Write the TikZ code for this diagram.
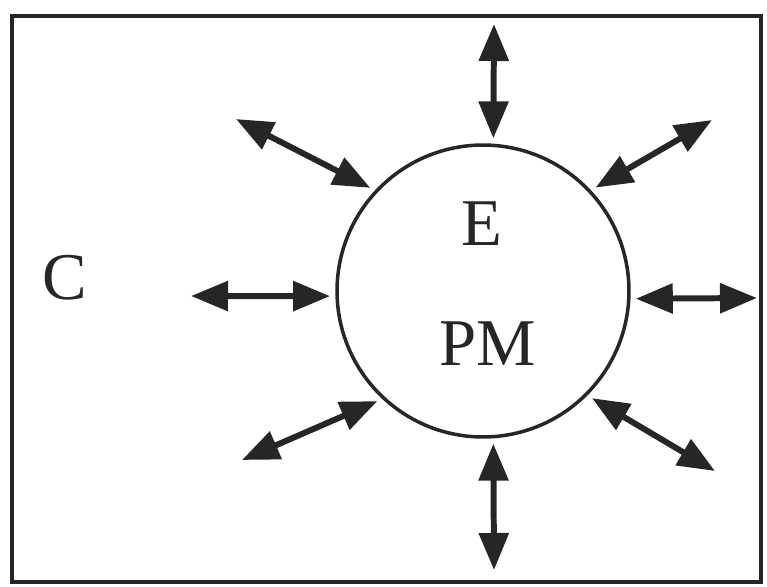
\documentclass[tikz,border=0pt]{standalone}
\usepackage{fontspec}
\setmainfont{Liberation Serif}
\usetikzlibrary{arrows.meta}
\definecolor{Ink}{HTML}{262626}

\begin{document}
\begin{tikzpicture}[x=0.02cm,y=-0.02cm,font=\fontsize{38}{40}\selectfont,text=Ink,frame/.style={draw=Ink,line width=2.4pt},cellwall/.style={circle,draw=Ink,line width=2pt,minimum size=5.84cm,inner sep=0pt},letter/.style={inner sep=0pt},exchange/.style={{Triangle[length=0.74cm,width=0.58cm]}-{Triangle[length=0.74cm,width=0.58cm]},line width=3.4pt,draw=Ink,shorten <=3pt}]
\useasboundingbox (0,0) rectangle (767,586);
\draw[frame] (12,16) rectangle (761,582);
\node[cellwall] (cell) at (483,291) {};
\node[letter] (e) at (482,224) {E};
\node[letter] (pm) at (488,344) {PM};
\node[letter] (c) at (65,278) {C};
\coordinate (north) at (494,24);\coordinate (northeast) at (712,120);\coordinate (east) at (757,298);\coordinate (southeast) at (715,471);
\coordinate (south) at (494,570);\coordinate (southwest) at (242,460);\coordinate (west) at (191,296);\coordinate (northwest) at (236,119);
\draw[exchange] (cell.86) -- (north);\draw[exchange] (cell.43) -- (northeast);\draw[exchange] (cell.-3) -- (east);\draw[exchange] (cell.-45) -- (southeast);
\draw[exchange] (cell.-86) -- (south);\draw[exchange] (cell.227) -- (southwest);\draw[exchange] (cell.182) -- (west);\draw[exchange] (cell.137) -- (northwest);
\end{tikzpicture}
\end{document}
